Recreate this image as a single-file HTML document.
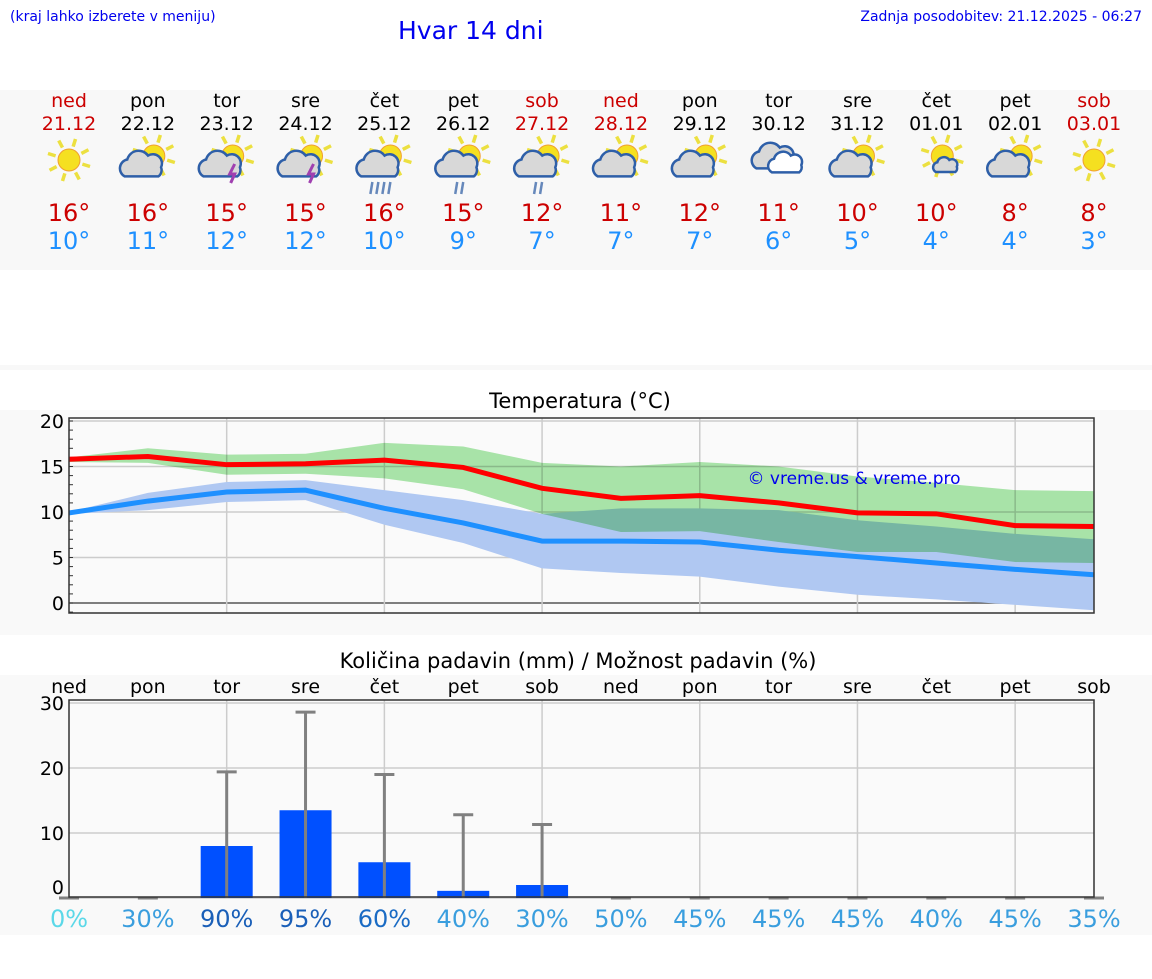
<!DOCTYPE html>
<html><head><meta charset="utf-8"><style>
body{margin:0;background:#fff;font-family:"DejaVu Sans","Liberation Sans",sans-serif;}
svg text{font-family:"DejaVu Sans","Liberation Sans",sans-serif;}
</style></head><body>
<svg id="s" width="1152" height="975" viewBox="0 0 1152 975" xmlns="http://www.w3.org/2000/svg">
<rect x="0" y="90" width="1152" height="180" fill="#f8f8f8"/>
<rect x="0" y="365" width="1152" height="5" fill="#f8f8f8"/>
<rect x="0" y="410" width="1152" height="225" fill="#f9f9f9"/>
<rect x="0" y="675" width="1152" height="260" fill="#f9f9f9"/>
<text x="10" y="21" font-size="14" fill="#0000ee" font-family="Liberation Sans">(kraj lahko izberete v meniju)</text>
<text x="398" y="39" font-size="25" fill="#0000ee" font-family="Liberation Sans">Hvar 14 dni</text>
<text x="1142" y="21" font-size="14" fill="#0000ee" text-anchor="end" font-family="Liberation Sans">Zadnja posodobitev: 21.12.2025 - 06:27</text>
<text x="580" y="408" font-size="21" text-anchor="middle" font-family="Liberation Sans">Temperatura (°C)</text>
<text x="578" y="668" font-size="21" text-anchor="middle" font-family="Liberation Sans">Količina padavin (mm) / Možnost padavin (%)</text>
<g id="g"></g>
</svg>
<script>
const days=["ned","pon","tor","sre","čet","pet","sob","ned","pon","tor","sre","čet","pet","sob"];
const dates=["21.12","22.12","23.12","24.12","25.12","26.12","27.12","28.12","29.12","30.12","31.12","01.01","02.01","03.01"];
const icons=["sun","partly","storm","storm","rain","rainl","rainl","partly","partly","cloudy","partly","smallcloud","partly","sun"];
const maxLabels=[16,16,15,15,16,15,12,11,12,11,10,10,8,8];
const minLabels=[10,11,12,12,10,9,7,7,7,6,5,4,4,3];
const tMax=[15.8,16.1,15.2,15.3,15.7,14.9,12.6,11.5,11.8,11.0,9.9,9.8,8.5,8.4];
const tMin=[9.9,11.2,12.2,12.4,10.4,8.8,6.8,6.8,6.7,5.8,5.1,4.4,3.7,3.1];
const maxHi=[16.0,17.0,16.3,16.4,17.6,17.2,15.4,15.0,15.5,15.0,13.9,13.2,12.4,12.3];
const maxLo=[15.5,15.4,14.1,14.2,13.7,12.5,9.8,7.8,7.9,6.7,5.6,5.6,4.5,4.4];
const minHi=[10.0,12.1,13.3,13.5,12.4,11.3,9.8,10.4,10.4,10.2,9.1,8.4,7.6,7.0];
const minLo=[9.8,10.2,11.1,11.3,8.6,6.6,3.8,3.3,2.9,1.8,0.9,0.4,-0.2,-0.8];
const precip=[0,0,8,13.5,5.5,1.1,2,0,0,0,0,0,0,0];
const precipMax=[0,0,19.4,28.6,19,12.8,11.3,0,0,0,0,0,0,0];
const chance=[0,30,90,95,60,40,30,50,45,45,45,40,45,35];
const tTicks=[0,5,10,15,20];
const pTicks=[0,10,20,30];

const NS="http://www.w3.org/2000/svg",G=document.getElementById('g');
function mk(t,a,p){const e=document.createElementNS(NS,t);for(const k in a)e.setAttribute(k,a[k]);(p||G).appendChild(e);return e;}
const X=i=>69+i*(1025/13);
const TY=v=>603-9.1*v;
const PY=v=>898-6.5*v;
const red=(d,i)=>(i===0||i===6||i===7||i===13);
function sun(g,cx,cy,r){for(let k=0;k<8;k++){const a=k*Math.PI/4+0.3;mk('line',{x1:cx+Math.cos(a)*(r+3),y1:cy+Math.sin(a)*(r+3),x2:cx+Math.cos(a)*(r+11),y2:cy+Math.sin(a)*(r+11),stroke:'#ece040','stroke-width':3.5},g);}mk('circle',{cx,cy,r,fill:'#f5e020',stroke:'#f0a030','stroke-width':1},g);}
function cloud(g,cx,cy,s,fill){mk('path',{d:`M${cx-14*s},${cy+8*s} a${7*s} ${7*s} 0 0 1 ${2*s},${-13*s} a${9*s} ${9*s} 0 0 1 ${16*s},${-3*s} a${7*s} ${7*s} 0 0 1 ${10*s},${9*s} a${6*s} ${6*s} 0 0 1 ${-2*s},${7*s} z`,fill:fill||'#d8d8d8',stroke:'#2e5fa8','stroke-width':2.5},g);}
function drawIcon(g,t){
 if(t==='sun'){sun(g,0,0,11);return;}
 if(t==='cloudy'){cloud(g,-4,-2,1.3);cloud(g,8,4,1.05,'#fff');return;}
 sun(g,6,-4,11);
 if(t==='smallcloud'){cloud(g,10,6,0.75);return;}
 cloud(g,-5,6,1.3);
 if(t==='storm'){mk('path',{d:'M8,4 l-5,10 h5 l-4,9',stroke:'#a040b0','stroke-width':3,fill:'none'},g);}
 if(t==='rain'||t==='rainl'){const n=t==='rain'?4:2;for(let k=0;k<n;k++)mk('line',{x1:-12+k*6+(t==='rainl'?6:0),y1:22,x2:-14+k*6+(t==='rainl'?6:0),y2:34,stroke:'#6688bb','stroke-width':2.5},g);}
}
days.forEach((d,i)=>{
 let t=mk('text',{x:X(i),y:107,'font-size':19,'text-anchor':'middle',fill:red(d,i)?'#cc0000':'#000'});t.textContent=d;
 
 
 t=mk('text',{x:X(i),y:130,'font-size':19,'text-anchor':'middle',fill:red(d,i)?'#cc0000':'#000'});t.textContent=dates[i];
 
 
 t=mk('text',{x:X(i),y:221,'font-size':24,'text-anchor':'middle',fill:'#cc0000'});t.textContent=maxLabels[i]+'°';
 
 
 t=mk('text',{x:X(i),y:249,'font-size':24,'text-anchor':'middle',fill:'#1e90ff'});t.textContent=minLabels[i]+'°';
 
 
 const g=mk('g',{transform:`translate(${X(i)},160)`});
 
 
 drawIcon(g,icons[i]);
});
// temp chart
const L=69,R=1094;
mk('rect',{x:L,y:418,width:R-L,height:195,fill:'#fafafa',stroke:'none'});
tTicks.forEach(v=>{mk('line',{x1:L,x2:R,y1:TY(v),y2:TY(v),stroke:v===0?'#555':'#ccc','stroke-width':1.5});
 const t=mk('text',{x:64,y:TY(v)+7,'font-size':19,'text-anchor':'end'});t.textContent=v;
 
 });
for(let v=-1;v<=20;v++)mk('line',{x1:L,x2:L+4,y1:TY(v),y2:TY(v),stroke:'#333','stroke-width':1});
for(let i=2;i<14;i+=2)mk('line',{x1:X(i),x2:X(i),y1:418,y2:613,stroke:'#ccc','stroke-width':1.5});
function band(hi,lo,col,name,blend){const p=hi.map((v,i)=>X(i)+','+TY(v)).concat(lo.map((v,i)=>X(i)+','+TY(v)).reverse());const e=mk('polygon',{points:p.join(' '),fill:col});
 if(blend)e.style.mixBlendMode='multiply';
 
 }
band(minHi,minLo,'#b0c8f2','min-temp-range',false);
band(maxHi,maxLo,'#ace8ac','max-temp-range',true);
function line(v,col,name){const e=mk('polyline',{points:v.map((a,i)=>X(i)+','+TY(a)).join(' '),fill:'none',stroke:col,'stroke-width':5});
 
 }
line(tMax,'#ff0000','max-temp-line');line(tMin,'#1e90ff','min-temp-line');
mk('rect',{x:L,y:418,width:R-L,height:195,fill:'none',stroke:'#333','stroke-width':1.5});
let w=mk('text',{x:854,y:484,'font-size':17,'text-anchor':'middle',fill:'#0000ee','font-family':'Liberation Sans'});w.textContent='© vreme.us & vreme.pro';


// precip chart
mk('rect',{x:L,y:700,width:R-L,height:197,fill:'#fafafa'});
pTicks.forEach(v=>{mk('line',{x1:L,x2:R,y1:PY(v),y2:PY(v),stroke:'#ccc','stroke-width':1.5});
 const t=mk('text',{x:64,y:PY(v)+(v===0?-4:7),'font-size':19,'text-anchor':'end'});t.textContent=v;
 
 });
for(let i=2;i<14;i+=2)mk('line',{x1:X(i),x2:X(i),y1:700,y2:897,stroke:'#ccc','stroke-width':1.5});
days.forEach((d,i)=>{
 let t=mk('text',{x:X(i),y:693,'font-size':19,'text-anchor':'middle'});t.textContent=d;
 
 
 if(precip[i]>0){const b=mk('rect',{x:X(i)-26,y:PY(precip[i]),width:52,height:PY(0)-PY(precip[i]),fill:'#0050ff'});
 
 }
 const e=mk('line',{x1:X(i),x2:X(i),y1:PY(0),y2:PY(precipMax[i]),stroke:'#808080','stroke-width':3});
 
 
 mk('line',{x1:X(i)-10,x2:X(i)+10,y1:PY(precipMax[i]),y2:PY(precipMax[i]),stroke:'#808080','stroke-width':3});
 const c=chance[i];const col=c===0?'#5bd8e8':c>=90?'#1a5fb8':c>=60?'#1a6bc4':'#3a9ede';
 t=mk('text',{x:X(i),y:927,'font-size':24,'text-anchor':'middle',fill:col});t.textContent=c+'%';
 
 
});
mk('rect',{x:L,y:700,width:R-L,height:197,fill:'none',stroke:'#333','stroke-width':1.5});
</script>
</body></html>
